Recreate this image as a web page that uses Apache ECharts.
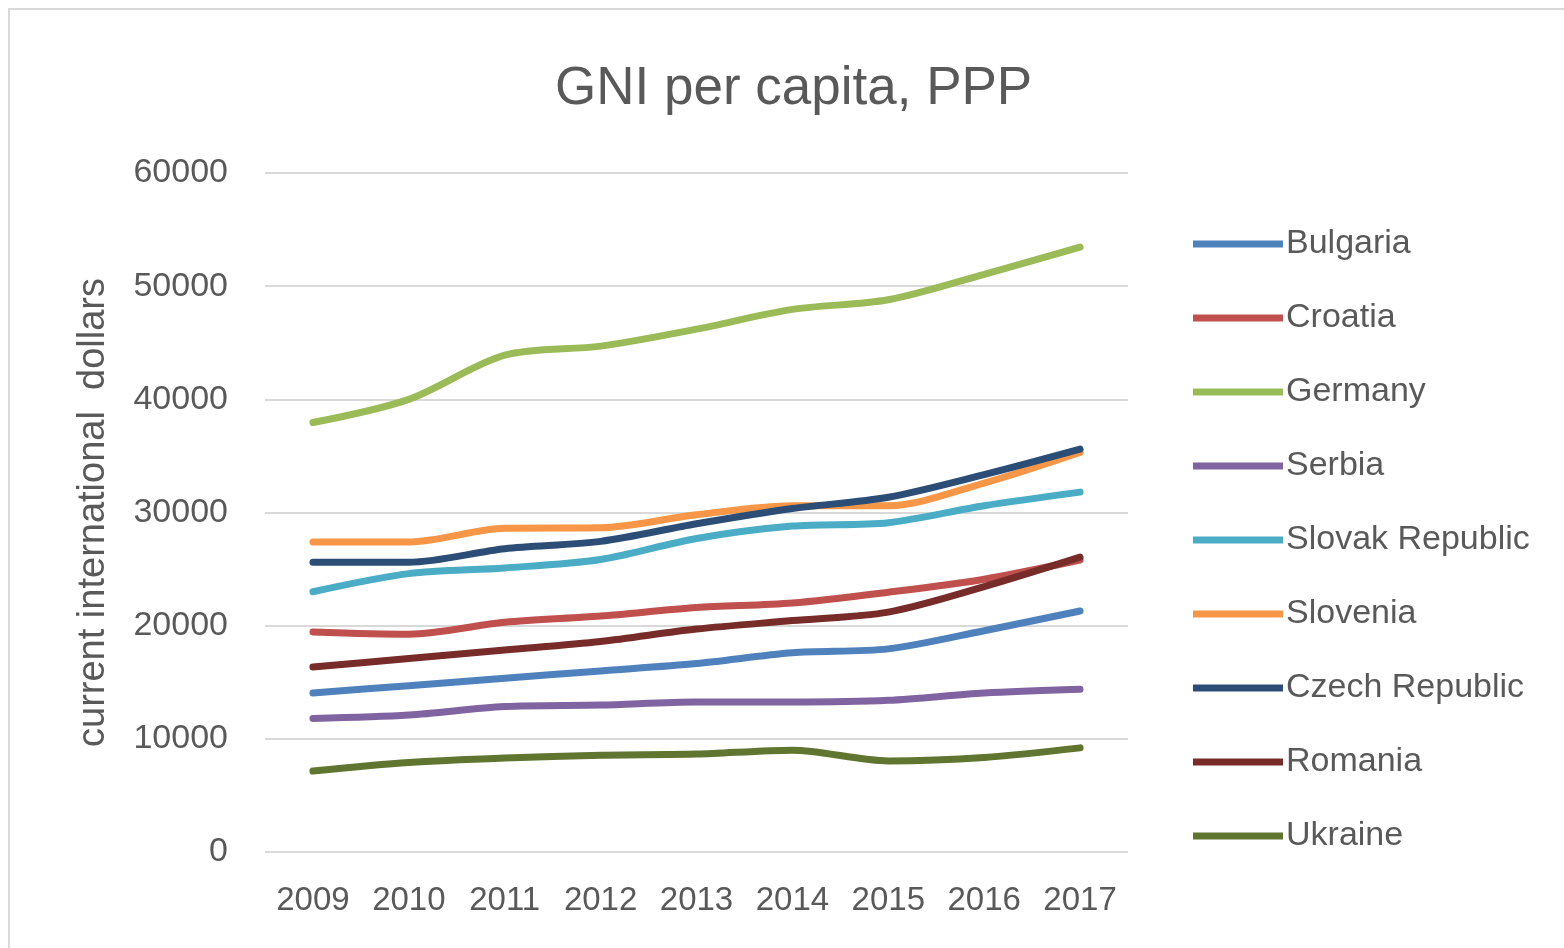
<!DOCTYPE html>
<html lang="en">
<head>
    <meta charset="utf-8"/>
    <script src="https://cdn.jsdelivr.net/npm/echarts@6.0.0/dist/echarts.min.js"></script>
    <title>GNI per capita, PPP</title>
    <style>
        html, body { margin: 0; padding: 0; background: #fff; }
        #main { width: 1564px; height: 948px; }
    </style>
</head>
<body>
<div id="main"></div>
<script type="text/javascript">

    var years = ['2009', '2010', '2011', '2012', '2013', '2014', '2015', '2016', '2017'];

    var bulgaria = [14050, 14700, 15350, 16000, 16650, 17600, 17950, 19550, 21300];
    var croatia  = [19450, 19250, 20300, 20850, 21600, 22000, 22950, 24100, 25800];
    var germany  = [37950, 40000, 43900, 44700, 46200, 47950, 48800, 51050, 53450];
    var serbia   = [11800, 12100, 12850, 12980, 13250, 13250, 13400, 14050, 14380];
    var slovak   = [23000, 24600, 25100, 25850, 27700, 28800, 29100, 30600, 31800];
    var slovenia = [27400, 27400, 28600, 28650, 29800, 30600, 30600, 32600, 35300];
    var czech    = [25600, 25600, 26800, 27450, 29000, 30350, 31350, 33350, 35600];
    var romania  = [16350, 17100, 17850, 18600, 19700, 20450, 21200, 23450, 26050];
    var ukraine  = [7150, 7900, 8300, 8550, 8650, 9000, 8050, 8350, 9200];

    var countries = ['Bulgaria', 'Croatia', 'Germany', 'Serbia', 'Slovak Republic', 'Slovenia', 'Czech Republic', 'Romania', 'Ukraine'];
    var values = [bulgaria, croatia, germany, serbia, slovak, slovenia, czech, romania, ukraine];
    var colors = ['#4F81BD', '#C0504D', '#9BBB59', '#8064A2', '#4BACC6', '#F79646', '#2C4D75', '#772C2A', '#5F7530'];

    var font = 'Liberation Sans, Arial, sans-serif';
    var grey = '#595959';

    var myChart = echarts.init(document.getElementById('main'));

    var series = [];
    for (var i = 0; i < countries.length; i++) {
        series.push({
            name: countries[i],
            type: 'line',
            data: values[i],
            smooth: 0.3,
            symbol: 'none',
            lineStyle: {width: 7, color: colors[i], cap: 'round'},
            itemStyle: {color: colors[i]}
        });
    }

    var option = {
        backgroundColor: '#fff',
        animation: false,
        color: colors,
        graphic: [{
            type: 'rect',
            shape: {x: 9, y: 9, width: 1600, height: 1000},
            style: {fill: 'none', stroke: '#d9d9d9', lineWidth: 2},
            silent: true
        }],
        title: {
            text: 'GNI per capita, PPP',
            left: 550,
            top: 58,
            textStyle: {fontFamily: font, fontSize: 53, fontWeight: 'normal', color: grey}
        },
        legend: {
            orient: 'vertical',
            left: 1188,
            top: 222,
            itemWidth: 90,
            itemHeight: 7,
            itemGap: 40,
            icon: 'rect',
            textStyle: {fontFamily: font, fontSize: 34, color: grey, padding: [0, 0, 0, -2]},
            data: countries
        },
        grid: {left: 265, right: 436, top: 173, bottom: 96},
        xAxis: {
            type: 'category',
            data: years,
            boundaryGap: true,
            axisLine: {show: false},
            axisTick: {show: false},
            axisLabel: {fontFamily: font, fontSize: 33, color: grey, margin: 32, interval: 0}
        },
        yAxis: {
            type: 'value',
            min: 0,
            max: 60000,
            interval: 10000,
            name: 'current international  dollars',
            nameLocation: 'middle',
            nameGap: 152,
            nameRotate: 90,
            nameTextStyle: {fontFamily: font, fontSize: 38, color: grey},
            axisLine: {show: false},
            axisTick: {show: false},
            axisLabel: {
                fontFamily: font, fontSize: 34, color: grey, margin: 37,
                formatter: function (v) { return String(v); }
            },
            splitLine: {lineStyle: {color: '#d9d9d9', width: 2}}
        },
        series: series
    };
    myChart.setOption(option);
</script>
</body>
</html>
